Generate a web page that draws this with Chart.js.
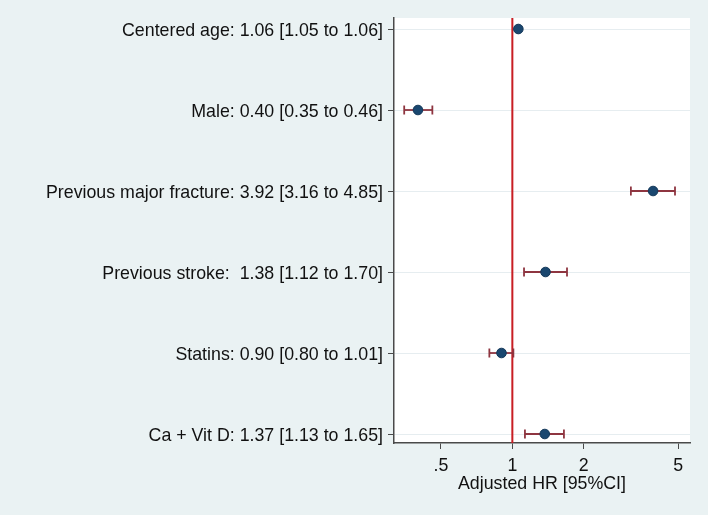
<!DOCTYPE html>
<html>
<head>
<meta charset="utf-8">
<script src="https://cdn.jsdelivr.net/npm/chart.js@4/dist/chart.umd.min.js"></script>
<style>
  html, body { margin: 0; padding: 0; background: #EAF2F3; }
  #wrap { width: 708px; height: 515px; }
</style>
</head>
<body>
<div id="wrap"><canvas id="c" width="708" height="515"></canvas></div>
<script>
// ── Data ────────────────────────────────────────────────
const rowLabels = [
  'Centered age: 1.06 [1.05 to 1.06]',
  'Male: 0.40 [0.35 to 0.46]',
  'Previous major fracture: 3.92 [3.16 to 4.85]',
  'Previous stroke:  1.38 [1.12 to 1.70]',
  'Statins: 0.90 [0.80 to 1.01]',
  'Ca + Vit D: 1.37 [1.13 to 1.65]'
];
const hrValues = [1.06, 0.40, 3.92, 1.38, 0.90, 1.37];
const ciLower  = [1.05, 0.35, 3.16, 1.12, 0.80, 1.13];
const ciUpper  = [1.06, 0.46, 4.85, 1.70, 1.01, 1.65];
const xTickValues = [0.5, 1, 2, 5];
const xTickLabels = ['.5', '1', '2', '5'];
const refValue = 1;

const FONT = "'Liberation Sans', Arial, sans-serif";
const AXIS_GREY = '#4a4a4a';
const CI_RED = '#8E3540';
const DOT_NAVY = '#1A476F';

// paint the white plot region (Stata style)
const plotBg = {
  id: 'plotBg',
  beforeDraw(chart) {
    const { ctx, chartArea: a } = chart;
    ctx.save();
    ctx.fillStyle = '#ffffff';
    ctx.fillRect(a.left, a.top, a.right - a.left, a.bottom - a.top);
    ctx.restore();
  }
};

// one line dataset per row: lower → upper, caps via rotated 'line' points
const ciSets = rowLabels.map((_, i) => ({
  type: 'line',
  data: [{ x: ciLower[i], y: i }, { x: ciUpper[i], y: i }],
  borderColor: CI_RED,
  borderWidth: 1.8,
  pointStyle: 'line',
  pointRotation: 90,
  pointRadius: 4.5,
  pointBorderColor: CI_RED,
  pointBorderWidth: 1.8,
  order: 2
}));

new Chart(document.getElementById('c'), {
  type: 'scatter',
  data: {
    datasets: [
      {
        type: 'line',
        data: [{ x: refValue, y: -1 }, { x: refValue, y: 6 }],
        borderColor: '#C81E24',
        borderWidth: 2,
        pointRadius: 0,
        order: 3
      },
      ...ciSets,
      {
        data: hrValues.map((v, i) => ({ x: v, y: i })),
        backgroundColor: DOT_NAVY,
        borderColor: '#15395a',
        borderWidth: 1,
        pointRadius: 4.8,
        order: 1
      }
    ]
  },
  options: {
    responsive: false,
    animation: false,
    events: [],
    layout: { padding: { top: 18, right: 18, left: 0, bottom: 0 } },
    plugins: { legend: { display: false }, tooltip: { enabled: false } },
    scales: {
      x: {
        type: 'logarithmic',
        bounds: 'data',
        min: 0.317,
        max: 5.61,
        afterBuildTicks: (s) => { s.ticks = xTickValues.map(v => ({ value: v })); },
        afterFit: (s) => { s.height = 72; },
        ticks: {
          color: '#111',
          font: { family: FONT, size: 17.8 },
          padding: 6,
          autoSkip: false,
          maxRotation: 0,
          callback: (v) => xTickLabels[xTickValues.indexOf(v)] ?? ''
        },
        grid: { drawOnChartArea: false, tickLength: 6, tickColor: AXIS_GREY, tickWidth: 1 },
        border: { color: AXIS_GREY, width: 1.5 },
        title: {
          display: true,
          text: 'Adjusted HR [95%CI]',
          color: '#111',
          font: { family: FONT, size: 17.8 },
          padding: { top: 0, bottom: 20 }
        }
      },
      y: {
        type: 'linear',
        reverse: true,
        min: -0.136,
        max: 5.111,
        afterBuildTicks: (s) => { s.ticks = rowLabels.map((_, i) => ({ value: i })); },
        afterFit: (s) => { s.width = 394; },
        ticks: {
          color: '#111',
          font: { family: FONT, size: 17.8 },
          padding: 5,
          labelOffset: 2,
          autoSkip: false,
          callback: (v) => rowLabels[v] ?? ''
        },
        grid: { color: '#E6EDF0', lineWidth: 1, tickLength: 6, tickColor: AXIS_GREY },
        border: { color: AXIS_GREY, width: 1.5 }
      }
    }
  },
  plugins: [plotBg]
});
</script>
</body>
</html>
